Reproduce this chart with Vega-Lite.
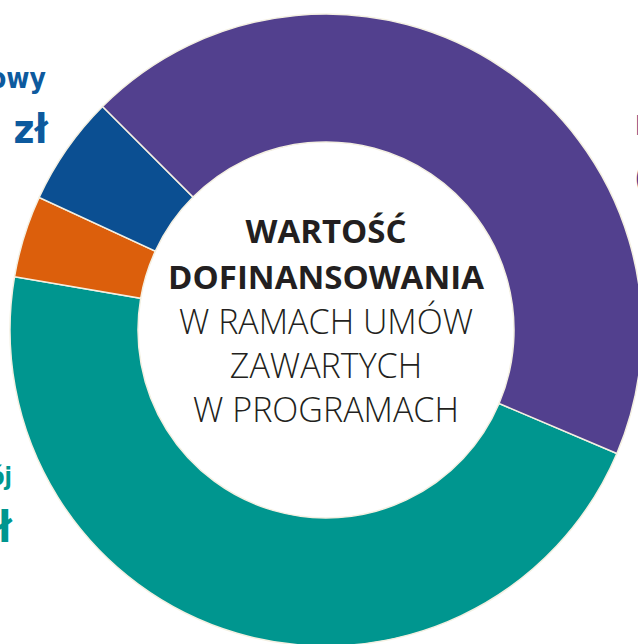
{
  "$schema": "https://vega.github.io/schema/vega-lite/v6.json",
  "autosize": {"type": "none"},
  "width": 624,
  "height": 628,
  "padding": {"left": 14, "top": 16, "right": 0, "bottom": 0},
  "background": "white",
  "config": {"view": {"stroke": null}},
  "layer": [
    {
      "data": {"values": [
        {"program": "Program B", "value": 166.7, "o": 1},
        {"program": "Program C", "value": 15.1, "o": 2},
        {"program": "Program D", "value": 20.2, "o": 3},
        {"program": "Program A", "value": 158.0, "o": 4}
      ]},
      "mark": {"type": "arc", "innerRadius": 188, "outerRadius": 316, "stroke": "#f4f0e2", "strokeWidth": 1.5},
      "encoding": {
        "theta": {"field": "value", "type": "quantitative", "stack": true, "scale": {"range": [1.9722, 8.2554]}},
        "color": {"field": "program", "type": "nominal", "legend": null,
          "scale": {"domain": ["Program A", "Program B", "Program C", "Program D"], "range": ["#52408e", "#00968f", "#dc5f0c", "#0b4f92"]}},
        "order": {"field": "o", "type": "quantitative"}
      }
    },
    {
      "data": {"values": [{"line": "WARTOŚĆ\nDOFINANSOWANIA"}]},
      "mark": {"type": "text", "font": "Open Sans", "fontSize": 33, "fontWeight": "bold", "lineHeight": 46, "lineBreak": "\n", "align": "center", "baseline": "alphabetic", "dy": -87, "color": "#231f20"},
      "encoding": {"text": {"field": "line"}}
    },
    {
      "data": {"values": [{"line": "W RAMACH UMÓW\nZAWARTYCH\nW PROGRAMACH"}]},
      "mark": {"type": "text", "font": "Open Sans", "fontSize": 34, "fontWeight": 300, "lineHeight": 44, "lineBreak": "\n", "align": "center", "baseline": "alphabetic", "dy": 4, "color": "#231f20"},
      "encoding": {"text": {"field": "line"}}
    },
    {
      "data": {"values": [{"label": "owy", "ux": -0.886, "uy": 0.766}]},
      "mark": {"type": "text", "font": "DejaVu Sans Condensed", "fontSize": 28, "fontWeight": "bold", "align": "right", "baseline": "alphabetic", "color": "#0d5a9e"},
      "encoding": {
        "x": {"field": "ux", "type": "quantitative", "scale": {"domain": [-0.9873, 0.9873], "nice": false, "zero": false}, "axis": null},
        "y": {"field": "uy", "type": "quantitative", "scale": {"domain": [-0.9937, 0.9937], "nice": false, "zero": false}, "axis": null},
        "text": {"field": "label"}
      }
    },
    {
      "data": {"values": [{"label": "mln zł", "ux": -0.88, "uy": 0.592}]},
      "mark": {"type": "text", "font": "DejaVu Sans Condensed", "fontSize": 40, "fontWeight": "bold", "align": "right", "baseline": "alphabetic", "color": "#0d5a9e"},
      "encoding": {
        "x": {"field": "ux", "type": "quantitative", "axis": null},
        "y": {"field": "uy", "type": "quantitative", "axis": null},
        "text": {"field": "label"}
      }
    },
    {
      "data": {"values": [{"label": "Rozwój", "ux": -0.994, "uy": -0.491}]},
      "mark": {"type": "text", "font": "DejaVu Sans Condensed", "fontSize": 24, "fontWeight": "bold", "align": "right", "baseline": "alphabetic", "color": "#00968f"},
      "encoding": {
        "x": {"field": "ux", "type": "quantitative", "axis": null},
        "y": {"field": "uy", "type": "quantitative", "axis": null},
        "text": {"field": "label"}
      }
    },
    {
      "data": {"values": [{"label": "zł", "ux": -0.994, "uy": -0.671}]},
      "mark": {"type": "text", "font": "DejaVu Sans Condensed", "fontSize": 42, "fontWeight": "bold", "align": "right", "baseline": "alphabetic", "color": "#00968f"},
      "encoding": {
        "x": {"field": "ux", "type": "quantitative", "axis": null},
        "y": {"field": "uy", "type": "quantitative", "axis": null},
        "text": {"field": "label"}
      }
    },
    {
      "data": {"values": [{"label": "P", "ux": 0.978, "uy": 0.617}]},
      "mark": {"type": "text", "font": "DejaVu Sans Condensed", "fontSize": 27, "fontWeight": "bold", "align": "left", "baseline": "alphabetic", "color": "#52408e"},
      "encoding": {
        "x": {"field": "ux", "type": "quantitative", "axis": null},
        "y": {"field": "uy", "type": "quantitative", "axis": null},
        "text": {"field": "label"}
      }
    },
    {
      "data": {"values": [{"label": "(", "ux": 0.975, "uy": 0.443}]},
      "mark": {"type": "text", "font": "DejaVu Sans Condensed", "fontSize": 36, "fontWeight": "bold", "align": "left", "baseline": "alphabetic", "color": "#52408e"},
      "encoding": {
        "x": {"field": "ux", "type": "quantitative", "axis": null},
        "y": {"field": "uy", "type": "quantitative", "axis": null},
        "text": {"field": "label"}
      }
    }
  ]
}
